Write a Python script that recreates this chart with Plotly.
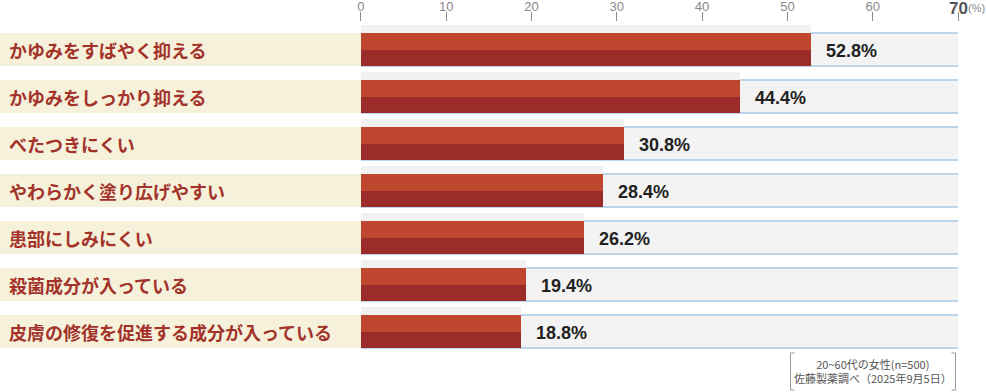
import plotly.graph_objects as go

categories = [
    "かゆみをすばやく抑える",
    "かゆみをしっかり抑える",
    "べたつきにくい",
    "やわらかく塗り広げやすい",
    "患部にしみにくい",
    "殺菌成分が入っている",
    "皮膚の修復を促進する成分が入っている",
]
values = [52.8, 44.4, 30.8, 28.4, 26.2, 19.4, 18.8]
tick_values = [0, 10, 20, 30, 40, 50, 60, 70]
tick_labels = ["0", "10", "20", "30", "40", "50", "60", ""]
axis_max = 70
note_lines = ["20~60代の女性(n=500)", "佐藤製薬調べ（2025年9月5日）"]

W, H = 986, 392
ML, MR, MT, MB = 0, 28, 22, 0
plot_w = W - ML - MR
plot_h = H - MT - MB
label_px = 360.9          # pixel where 0 sits
px_per_unit = (plot_w - label_px) / axis_max
x_min = -label_px / px_per_unit

row_px = 47.0             # row pitch
first_center = 49.5 - MT  # centre of first bar in plot pixels
y_min = -first_center / row_px
y_max = y_min + plot_h / row_px

rows = list(range(len(categories)))
u = 1.0 / row_px          # one pixel in y units

def bar(x, offset_px, height_px, color, base=0):
    return go.Bar(
        y=rows, x=x, base=base, orientation="h",
        offset=offset_px * u, width=height_px * u,
        marker=dict(color=color, line=dict(width=0)),
        hoverinfo="skip", showlegend=False,
    )

full = [axis_max] * len(rows)
fig = go.Figure()
# beige label background
fig.add_trace(bar([-x_min] * len(rows), -16.5, 33, "#f6f1da", base=x_min))
# grey row background
fig.add_trace(bar(full, -16.5, 33, "#f3f3f3"))
# blue border lines
fig.add_trace(bar(full, -17, 1, "#bcd5ea"))
fig.add_trace(bar(full, 16, 1, "#bcd5ea"))
# light strip above bar
fig.add_trace(bar(values, -24.5, 8, "#f1f1f1"))
# red bars (two tones)
fig.add_trace(bar(values, -16.5, 17, "#c0472f"))
fig.add_trace(bar(values, 0.5, 16, "#9b2c29"))

annotations = []
for i, (c, v) in enumerate(zip(categories, values)):
    annotations.append(dict(
        x=7 / plot_w, xref="paper", y=i, yref="y", xanchor="left", yanchor="middle",
        text=f"<b>{c}</b>", showarrow=False,
        font=dict(family="Noto Sans CJK JP", size=18, color="#a3332a"),
    ))
    annotations.append(dict(
        x=v, xref="x", y=i, yref="y", xanchor="left", yanchor="middle",
        xshift=13, yshift=-1,
        text=f"<b>{v:.1f}%</b>", showarrow=False,
        font=dict(family="Liberation Sans, Arial", size=18, color="#222222"),
    ))

# axis end label
annotations.append(dict(
    x=axis_max, xref="x", y=1 + (MT - 9) / plot_h, yref="paper",
    xanchor="center", yanchor="middle", text="<b>70</b>", showarrow=False,
    font=dict(family="Liberation Sans, Arial", size=17, color="#555555"),
))
annotations.append(dict(
    x=axis_max, xref="x", y=1 + (MT - 8) / plot_h, yref="paper", xshift=8,
    xanchor="left", yanchor="middle", text="(%)", showarrow=False,
    font=dict(family="Liberation Sans, Arial", size=11, color="#888888"),
))

# footnote
def px_x(p):
    return (p - ML) / plot_w

def px_y(p):
    return 1 - (p - MT) / plot_h

annotations.append(dict(
    x=px_x(873), xref="paper", y=px_y(371), yref="paper",
    xanchor="center", yanchor="middle", align="center",
    text="<br>".join(note_lines), showarrow=False,
    font=dict(family="Noto Sans CJK JP", size=11, color="#555555"),
))

shapes = []
bc = "#999999"
for xb, xe in [(790.5, 794.5), (955.5, 951.5)]:
    shapes.append(dict(type="line", xref="paper", yref="paper",
                       x0=px_x(xb), x1=px_x(xb), y0=px_y(353), y1=px_y(390),
                       line=dict(color=bc, width=1)))
    for yy in (353, 390):
        shapes.append(dict(type="line", xref="paper", yref="paper",
                           x0=px_x(xb), x1=px_x(xe), y0=px_y(yy), y1=px_y(yy),
                           line=dict(color=bc, width=1)))

fig.update_layout(
    width=W, height=H,
    margin=dict(l=ML, r=MR, t=MT, b=MB, pad=0, autoexpand=False),
    paper_bgcolor="white", plot_bgcolor="white",
    barmode="overlay", bargap=0,
    annotations=annotations, shapes=shapes,
    xaxis=dict(
        range=[x_min, axis_max], side="top", automargin=False,
        tickvals=tick_values, ticktext=tick_labels,
        ticks="outside", ticklen=9, tickwidth=1, tickcolor="#8a8a8a",
        ticklabelstandoff=-4,
        tickfont=dict(family="Liberation Sans, Arial", size=13, color="#888888"),
        showgrid=False, zeroline=False, showline=False, fixedrange=True,
    ),
    yaxis=dict(
        range=[y_max, y_min], showticklabels=False, showgrid=False, automargin=False,
        zeroline=False, showline=False, ticks="", fixedrange=True,
    ),
)

fig.write_html(
    "out.html",
    config={"displayModeBar": False},
    post_script="document.body.style.margin='0';document.body.style.padding='0';"
                "document.documentElement.style.overflow='hidden';",
)
